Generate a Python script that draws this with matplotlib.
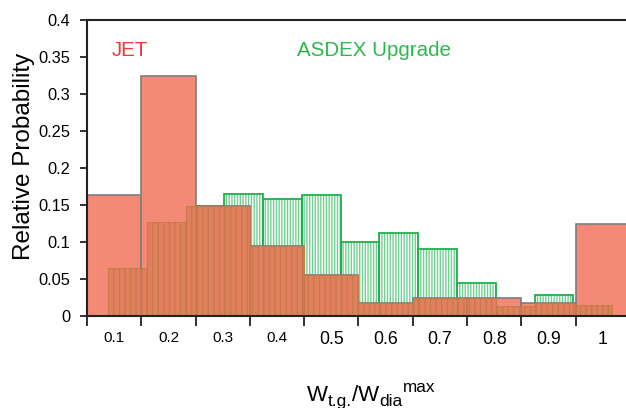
import numpy as np
import matplotlib
matplotlib.use("Agg")
import matplotlib.pyplot as plt

plt.rcParams['font.family'] = 'Liberation Sans'
plt.rcParams['hatch.linewidth'] = 1.0

# JET histogram, bins of width 0.1 centred on 0.1 ... 1.0
jet_centres = [0.1, 0.2, 0.3, 0.4, 0.5, 0.6, 0.7, 0.8, 0.9, 1.0]
jet_prob = [0.163, 0.325, 0.148, 0.094, 0.055, 0.017, 0.024, 0.024, 0.017, 0.125]
jet_width = 0.1

# ASDEX Upgrade histogram, 13 narrower bins
asdex_left = 0.0887
asdex_width = 1 / 14
asdex_prob = [0.065, 0.127, 0.148, 0.165, 0.158, 0.163, 0.100, 0.112,
              0.091, 0.044, 0.013, 0.029, 0.015]

tick_labels = ['0.1', '0.2', '0.3', '0.4', '0.5', '0.6', '0.7', '0.8', '0.9', '1']

jet_color = '#f48a76'
overlap_color = '#de7d5a'
asdex_hatch = '#72d093'
asdex_edge = '#22b04c'

fig = plt.figure(figsize=(6.26, 4.08), dpi=100)
ax = fig.add_axes([87 / 626, 1 - 316 / 408, 1 - 87 / 626, 296 / 408])

asdex_x = asdex_left + asdex_width * np.arange(len(asdex_prob))
jet_x = np.array(jet_centres) - jet_width / 2

# ASDEX bars: hatched fill then a solid green outline
ax.bar(asdex_x, asdex_prob, width=asdex_width, align='edge', facecolor='white',
       edgecolor=asdex_hatch, hatch='||||||', linewidth=0, zorder=1)
ax.bar(asdex_x, asdex_prob, width=asdex_width, align='edge', facecolor='none',
       edgecolor=asdex_edge, linewidth=1.3, zorder=1.5)

# JET bars on top
ax.bar(jet_x, jet_prob, width=jet_width, align='edge', facecolor=jet_color,
       edgecolor='#7d7d7d', linewidth=1.2, zorder=2)

# where the two histograms overlap the fill gets darker
for ax0, ah in zip(asdex_x, asdex_prob):
    for jx0, jh in zip(jet_x, jet_prob):
        lo = max(ax0, jx0)
        hi = min(ax0 + asdex_width, jx0 + jet_width)
        if hi > lo:
            ax.bar(lo, min(ah, jh), width=hi - lo, align='edge',
                   facecolor=overlap_color, edgecolor='#c27a45', hatch='|||',
                   linewidth=0.8, alpha=0.8, zorder=3)

ax.set_xlim(0.05, 1.0427)
ax.set_ylim(0, 0.4)

for side in ['left', 'bottom', 'top']:
    ax.spines[side].set_linewidth(1.5)
    ax.spines[side].set_color('#222222')
    ax.spines[side].set_zorder(5)
ax.spines['right'].set_visible(False)

# ticks at the bin edges, labels at the bin centres
ax.set_xticks(np.arange(0.05, 1.0, 0.1))
ax.set_xticklabels([])
ax.set_xticks(jet_centres, minor=True)
ax.set_xticklabels(tick_labels, minor=True)
ax.tick_params(axis='x', which='major', direction='out', length=7, width=1.3,
               color='#222222')
ax.tick_params(axis='x', which='minor', length=0, pad=11)
for lab in ax.get_xticklabels(minor=True):
    lab.set_fontsize(11 if float(lab.get_text()) < 0.45 else 12.8)

ax.set_yticks(np.arange(0, 0.401, 0.05))
ax.set_yticklabels(['0', '0.05', '0.1', '0.15', '0.2', '0.25', '0.3', '0.35', '0.4'])
ax.tick_params(axis='y', direction='out', length=5, width=1.3, color='#222222',
               labelsize=11.8, pad=7)

ax.text(0.046, 0.93, 'JET', transform=ax.transAxes, color='#ee3a3a',
        fontsize=14.8, va='top')
ax.text(0.39, 0.93, 'ASDEX Upgrade', transform=ax.transAxes, color='#2db84d',
        fontsize=14.8, va='top')

fig.text(24 / 626, 1 - 156 / 408, 'Relative Probability', rotation=90,
         fontsize=17.5, ha='center', va='center')

# x label built from pieces: (text, size, baseline shift in px)
xlabel_parts = [('W', 16, 0), ('t.g.', 12.5, -5), ('/W', 16, 0),
                ('dia', 12.5, -5), ('max', 12.3, 9)]
renderer = fig.canvas.get_renderer()
pieces = []
for txt, size, dy in xlabel_parts:
    t = fig.text(0, 0, txt, fontsize=size, va='baseline', ha='left')
    pieces.append((t, t.get_window_extent(renderer).width, dy))
total = sum(w for _, w, _ in pieces)
x = 371 - total / 2
base = 408 - 401
for t, w, dy in pieces:
    t.set_position((x / 626, (base + dy) / 408))
    x += w

fig.savefig('out.png', dpi=100)
